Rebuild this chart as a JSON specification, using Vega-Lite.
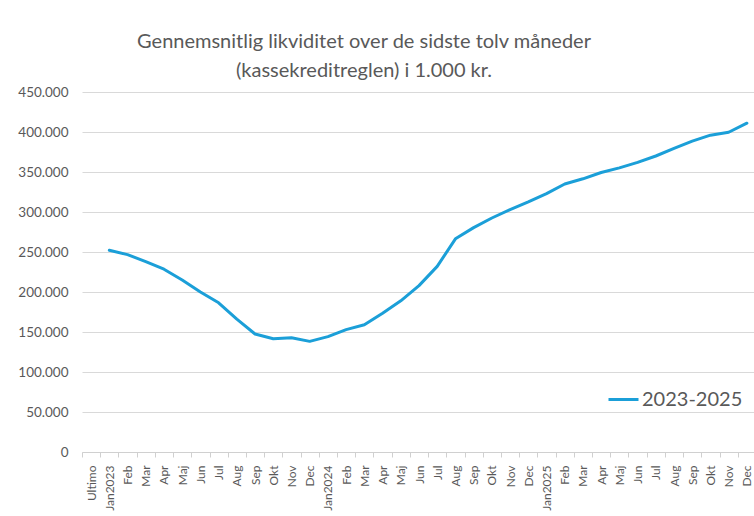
{
  "$schema": "https://vega.github.io/schema/vega-lite/v6.json",
  "autosize": "none",
  "padding": {"left": 82, "top": 92, "right": 0, "bottom": 64},
  "width": 674,
  "height": 360,
  "background": "white",
  "config": {
    "view": {"stroke": null},
    "font": "Lato",
    "locale": {"number": {"decimal": ",", "thousands": ".", "grouping": [3], "currency": ["", " kr."]}}
  },
  "title": {
    "text": ["Gennemsnitlig likviditet over de sidste tolv måneder", "(kassekreditreglen) i 1.000 kr."],
    "fontSize": 20,
    "fontWeight": "normal",
    "color": "#595959",
    "lineHeight": 29,
    "anchor": "middle",
    "frame": "group",
    "dx": -55,
    "offset": 4
  },
  "data": {
    "values": [
      {"m": "Jan2023", "v": 252100, "s": "2023-2025"},
      {"m": "Feb-23", "v": 246700, "s": "2023-2025"},
      {"m": "Mar-23", "v": 238000, "s": "2023-2025"},
      {"m": "Apr-23", "v": 228500, "s": "2023-2025"},
      {"m": "Maj-23", "v": 215000, "s": "2023-2025"},
      {"m": "Jun-23", "v": 200000, "s": "2023-2025"},
      {"m": "Jul-23", "v": 186500, "s": "2023-2025"},
      {"m": "Aug-23", "v": 166000, "s": "2023-2025"},
      {"m": "Sep-23", "v": 147500, "s": "2023-2025"},
      {"m": "Okt-23", "v": 141600, "s": "2023-2025"},
      {"m": "Nov-23", "v": 142900, "s": "2023-2025"},
      {"m": "Dec-23", "v": 138300, "s": "2023-2025"},
      {"m": "Jan2024", "v": 144200, "s": "2023-2025"},
      {"m": "Feb-24", "v": 153000, "s": "2023-2025"},
      {"m": "Mar-24", "v": 159000, "s": "2023-2025"},
      {"m": "Apr-24", "v": 173500, "s": "2023-2025"},
      {"m": "Maj-24", "v": 189000, "s": "2023-2025"},
      {"m": "Jun-24", "v": 208000, "s": "2023-2025"},
      {"m": "Jul-24", "v": 232000, "s": "2023-2025"},
      {"m": "Aug-24", "v": 266500, "s": "2023-2025"},
      {"m": "Sep-24", "v": 280500, "s": "2023-2025"},
      {"m": "Okt-24", "v": 292500, "s": "2023-2025"},
      {"m": "Nov-24", "v": 303000, "s": "2023-2025"},
      {"m": "Dec-24", "v": 312600, "s": "2023-2025"},
      {"m": "Jan2025", "v": 323000, "s": "2023-2025"},
      {"m": "Feb-25", "v": 335000, "s": "2023-2025"},
      {"m": "Mar-25", "v": 341500, "s": "2023-2025"},
      {"m": "Apr-25", "v": 349400, "s": "2023-2025"},
      {"m": "Maj-25", "v": 355200, "s": "2023-2025"},
      {"m": "Jun-25", "v": 362000, "s": "2023-2025"},
      {"m": "Jul-25", "v": 370000, "s": "2023-2025"},
      {"m": "Aug-25", "v": 379500, "s": "2023-2025"},
      {"m": "Sep-25", "v": 388500, "s": "2023-2025"},
      {"m": "Okt-25", "v": 396000, "s": "2023-2025"},
      {"m": "Nov-25", "v": 399700, "s": "2023-2025"},
      {"m": "Dec-25", "v": 411000, "s": "2023-2025"}
    ]
  },
  "mark": {"type": "line", "strokeWidth": 3, "strokeCap": "round", "strokeJoin": "round"},
  "encoding": {
    "x": {
      "field": "m",
      "type": "ordinal",
      "sort": null,
      "scale": {
        "type": "band",
        "paddingInner": 0,
        "paddingOuter": 0,
        "domain": ["Ultimo", "Jan2023", "Feb-23", "Mar-23", "Apr-23", "Maj-23", "Jun-23", "Jul-23", "Aug-23", "Sep-23", "Okt-23", "Nov-23", "Dec-23", "Jan2024", "Feb-24", "Mar-24", "Apr-24", "Maj-24", "Jun-24", "Jul-24", "Aug-24", "Sep-24", "Okt-24", "Nov-24", "Dec-24", "Jan2025", "Feb-25", "Mar-25", "Apr-25", "Maj-25", "Jun-25", "Jul-25", "Aug-25", "Sep-25", "Okt-25", "Nov-25", "Dec-25"]
      },
      "axis": {
        "title": null,
        "labelAngle": -90,
        "labelExpr": "isString(datum.value) ? split(datum.value, '-')[0] : ''",
        "labelFontSize": 12,
        "labelColor": "#595959",
        "labelPadding": 8,
        "tickBand": "extent",
        "tickSize": 5,
        "tickColor": "#d0d0d0",
        "domainColor": "#d0d0d0",
        "grid": false
      }
    },
    "y": {
      "field": "v",
      "type": "quantitative",
      "scale": {"domain": [0, 450000], "nice": false},
      "axis": {
        "title": null,
        "values": [0, 50000, 100000, 150000, 200000, 250000, 300000, 350000, 400000, 450000],
        "format": ",d",
        "labelFontSize": 13.5,
        "labelColor": "#595959",
        "ticks": false,
        "domain": false,
        "labelPadding": 14,
        "gridColor": "#d9d9d9",
        "gridWidth": 1
      }
    },
    "color": {
      "field": "s",
      "type": "nominal",
      "scale": {"range": ["#1b9fd8"]},
      "legend": {
        "title": null,
        "orient": "none",
        "legendX": 525,
        "legendY": 291,
        "symbolType": "stroke",
        "symbolSize": 900,
        "symbolStrokeWidth": 3,
        "labelFontSize": 20,
        "labelColor": "#595959",
        "labelOffset": 2
      }
    }
  }
}
